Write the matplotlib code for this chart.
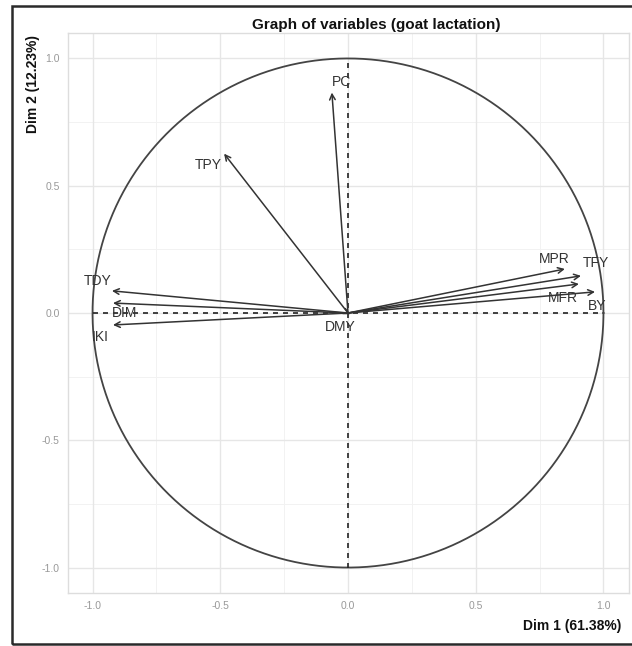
import matplotlib
matplotlib.use("Agg")
import matplotlib.pyplot as plt
import matplotlib.patches as patches
import numpy as np

plt.rcParams['font.family'] = ['Liberation Sans', 'DejaVu Sans']

# variable coordinates on Dim 1 / Dim 2
names = ['PC', 'TPY', 'TDY', 'DIM', 'IKI', 'DMY', 'MPR', 'TFY', 'MFR', 'BY']
dim1 = [-0.063, -0.485, -0.924, -0.92, -0.92, 0.01, 0.849, 0.912, 0.904, 0.967]
dim2 = [0.866, 0.626, 0.087, 0.039, -0.047, -0.005, 0.173, 0.146, 0.114, 0.083]

# label offsets (pixels) from arrow tip
lab_dx = [10, -16, -14, 12, -13, -10, -11, 15, -16, 2]
lab_dy = [11, -11, 10, -10, -12, -13, 10, 13, -14, -14]

xticks = [-1.0, -0.5, 0.0, 0.5, 1.0]
yticks = [-1.0, -0.5, 0.0, 0.5, 1.0]

fig = plt.figure(figsize=(6.32, 6.46), dpi=100)
ax = fig.add_axes([68 / 632, 1 - 593 / 646, (629 - 68) / 632, (593 - 33) / 646])

ax.set_xlim(-1.096, 1.10)
ax.set_ylim(-1.10, 1.10)

# grid
for v in [-0.75, -0.25, 0.25, 0.75]:
    ax.axvline(v, color='#f2f2f2', lw=0.7, zorder=0)
    ax.axhline(v, color='#f2f2f2', lw=0.7, zorder=0)
for v in xticks:
    ax.axvline(v, color='#e6e6e6', lw=1.0, zorder=0)
for v in yticks:
    ax.axhline(v, color='#e6e6e6', lw=1.0, zorder=0)

for s in ax.spines.values():
    s.set_color('#dddddd')
    s.set_linewidth(1.0)

ax.set_xticks(xticks)
ax.set_yticks(yticks)
ax.set_xticklabels(['%.1f' % t for t in xticks])
ax.set_yticklabels(['%.1f' % t for t in yticks])
ax.tick_params(length=0, labelsize=7.5, labelcolor='#999999', pad=6)

# circle and axes lines
t = np.linspace(0, 2 * np.pi, 400)
ax.plot(np.cos(t), np.sin(t), color='#444444', lw=1.3, zorder=2)
ax.plot([-1, 1], [0, 0], color='#222222', lw=1.2, ls=(0, (3, 3)), zorder=2)
ax.plot([0, 0], [-1, 1], color='#222222', lw=1.2, ls=(0, (3, 3)), zorder=2)

for i in range(len(names)):
    ax.annotate('', xy=(dim1[i], dim2[i]), xytext=(0, 0),
                arrowprops=dict(arrowstyle='->', lw=1.1, color='#333333',
                                shrinkA=0, shrinkB=0, mutation_scale=10),
                zorder=3)
    ax.annotate(names[i], xy=(dim1[i], dim2[i]), xytext=(lab_dx[i], lab_dy[i]),
                textcoords='offset pixels', ha='center', va='center',
                fontsize=10, color='#333333', zorder=4)

fig.text(376 / 632, 1 - 25 / 646, 'Graph of variables (goat lactation)',
         ha='center', va='center', fontsize=11, fontweight='bold', color='#111111')
fig.text(33 / 632, 1 - 35 / 646, 'Dim 2 (12.23%)', rotation=90,
         ha='center', va='top', fontsize=10, fontweight='bold', color='#111111')
fig.text(621 / 632, 1 - 626 / 646, 'Dim 1 (61.38%)',
         ha='right', va='center', fontsize=10, fontweight='bold', color='#111111')

# outer frame
fig.patches.append(patches.Rectangle((12 / 632, 2 / 646), 0.99, 638 / 646,
                                     transform=fig.transFigure, fill=False,
                                     edgecolor='#2a2a2a', lw=1.8))

plt.savefig('out.png', dpi=100)
